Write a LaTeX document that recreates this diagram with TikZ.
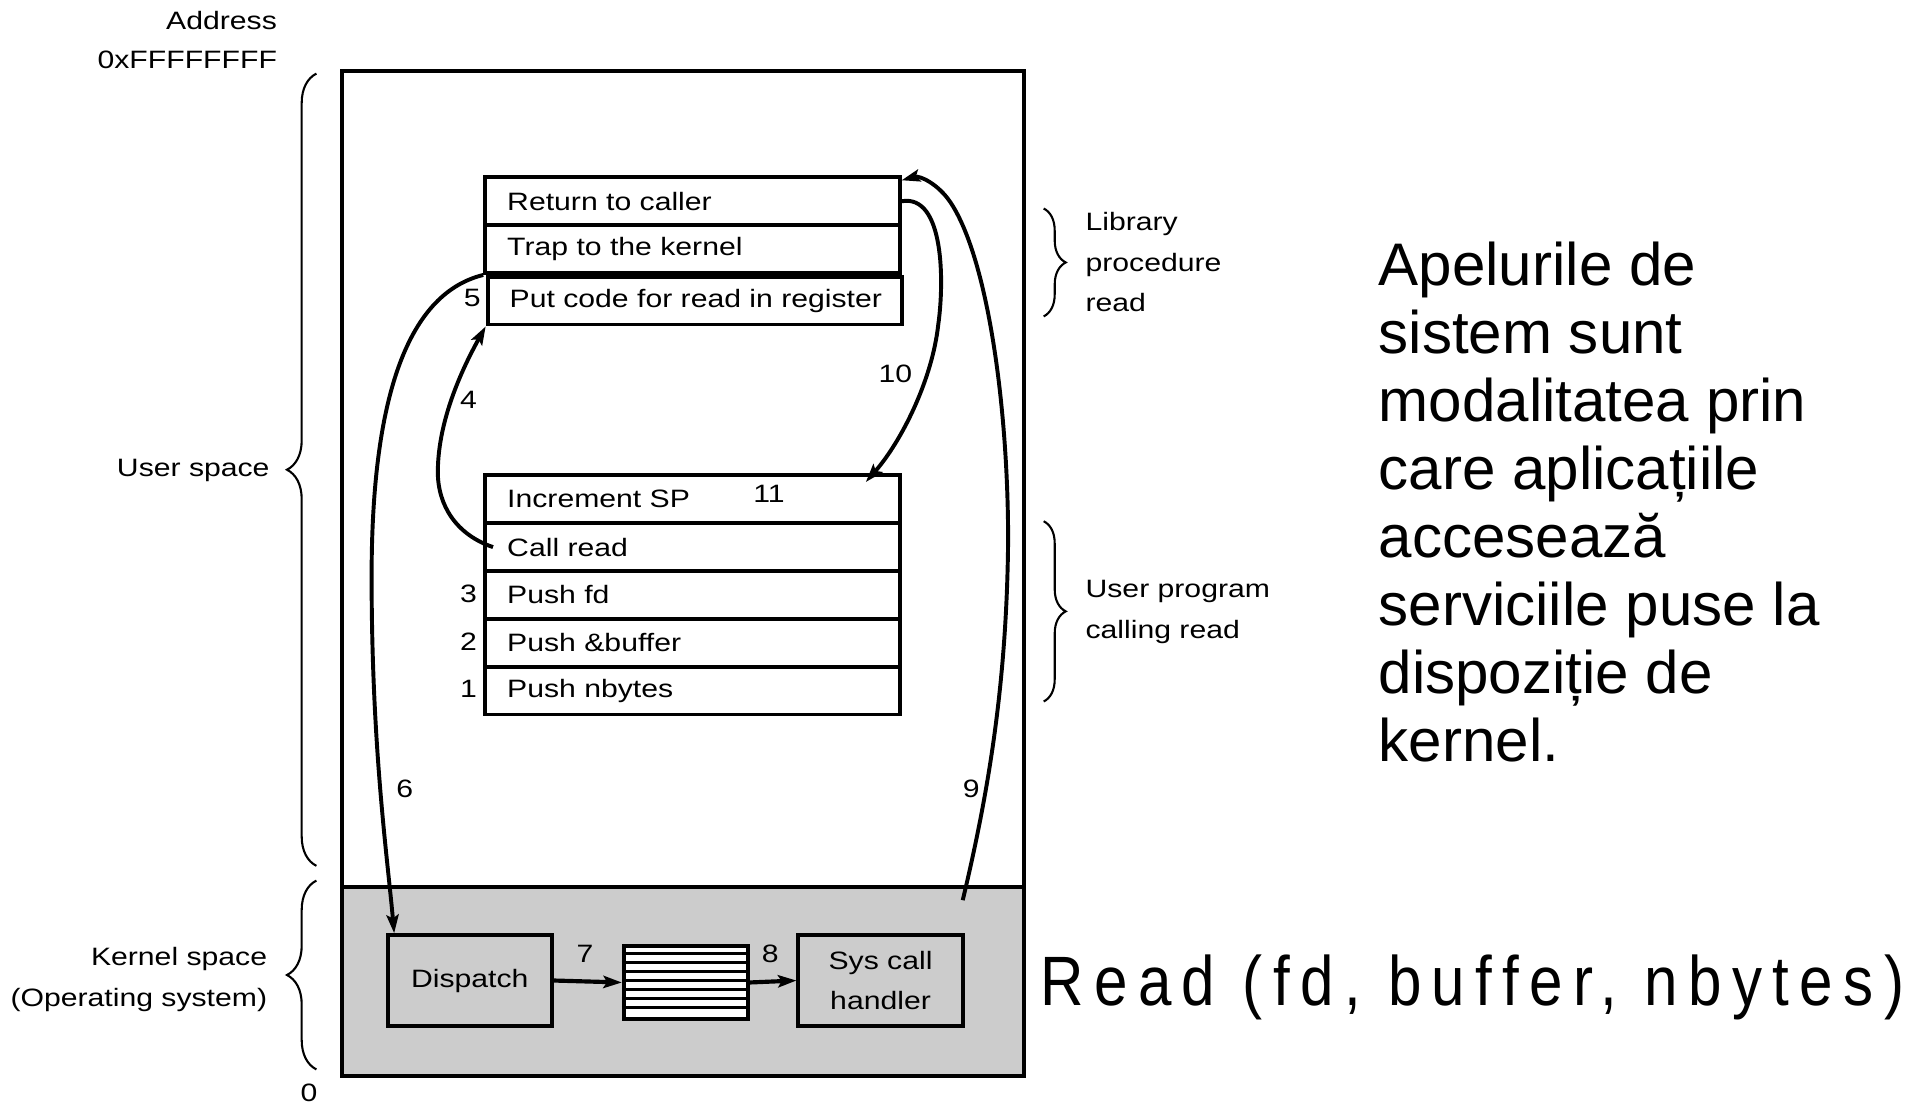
\documentclass[tikz,border=0pt]{standalone}
\usepackage{fontspec}
\setmainfont{Liberation Sans}
\newfontfamily\figfont[FakeStretch=1.2]{Liberation Sans}
\newfontfamily\readfont[FakeStretch=0.86,LetterSpace=15]{Liberation Sans}
\usetikzlibrary{arrows.meta,decorations.pathreplacing}
\begin{document}
\begin{tikzpicture}[x=1pt,y=-1pt]
\tikzset{
  fig/.style={font=\figfont\fontsize{20.5}{33}\selectfont},
  lbl/.style={fig, inner sep=0pt},
  row/.style={draw, line width=3.2pt, minimum width=338pt, minimum height=39pt,
    text width=302pt, inner xsep=18pt, inner ysep=0pt, align=left, anchor=north west, fig},
  kbox/.style={draw, line width=3.2pt, fill=black!20, align=center, fig, inner sep=0pt,
    minimum width=134pt, minimum height=74pt},
  conn/.style={line width=3.2pt, -{Stealth[length=15pt,width=10pt,inset=3pt]}},
  bigbrace/.style={decorate, decoration={brace, amplitude=24pt}, line width=1.7pt},
  smallbrace/.style={decorate, decoration={brace, amplitude=18pt}, line width=1.7pt}
}
\useasboundingbox (0,0) rectangle (1568,902);
% memory box
\node[fill=black!20, draw, line width=3.2pt, anchor=north west, inner sep=0pt,
  minimum width=556pt, minimum height=154pt] (kern) at (277,722) {};
\node[draw, line width=3.2pt, anchor=north west, inner sep=0pt,
  minimum width=556pt, minimum height=820pt] (mem) at (277,56) {};
% library procedure rows
\node[row] (ret) at (394,143) {Return to caller};
\node[row] (trap) at (394,182) {Trap to the kernel};
\node[row] (put) at (396,224) {\mbox{Put code for read in register}};
% user program rows
\node[row] (inc) at (394,386) {Increment SP};
\node[row] (call) at (394,425) {Call read};
\node[row] (pfd) at (394,464) {Push fd};
\node[row] (pbuf) at (394,503) {Push \&buffer};
\node[row] (pnb) at (394,542) {Push nbytes};
% kernel boxes
\node[kbox] (disp) at (383,799.5) {Dispatch};
\node[kbox] (sys) at (718,799.5) {Sys call\\handler};
\node[draw, line width=3.2pt, fill=white, anchor=north west, inner sep=0pt,
  minimum width=101pt, minimum height=59pt] (stack) at (507,770) {};
\foreach \k in {1,...,7} {
  \draw[line width=2.8pt] (507,770+\k*7.375) -- (608,770+\k*7.375);
}
\draw[conn, line width=3.4pt] (disp.east) -- (stack.west);
\draw[conn, line width=3.4pt] (stack.east) -- (sys.west);
% curved connectors
\coordinate (s9) at (785,734);
\coordinate (c10) at (706,393);
\draw[conn] ([xshift=8pt]call.west) .. controls (372,436) and (357,412) .. (357,385)
  .. controls (357,340) and (380,295) .. (put.south west);
\draw[conn] (trap.south west) .. controls (330,240) and (303,330) .. (303,470)
  .. controls (303,610) and (316,700) .. ([xshift=7pt]disp.north west);
\draw[conn] (s9) .. controls (805,650) and (821,560) .. (822,440)
  .. controls (822,330) and (805,210) .. (775,165)
  .. controls (765,150) and (750,143) .. ([yshift=-4pt]ret.north east);
\draw[conn] (ret.east) .. controls (770,158) and (770,230) .. (765,265)
  .. controls (760,310) and (735,360) .. (c10);
% step numbers
\node[lbl] (n5) at (385,243) {5};
\node[lbl] (n4) at (382,326) {4};
\node[lbl] (n10) at (730,305) {10};
\node[lbl] (n11) at (627,403) {11};
\node[lbl] (n3) at (382,484) {3};
\node[lbl] (n2) at (382,523) {2};
\node[lbl] (n1) at (382,562) {1};
\node[lbl] (n6) at (330,643) {6};
\node[lbl] (n9) at (792,643) {9};
\node[lbl] (n7) at (477,778) {7};
\node[lbl] (n8) at (628,778) {8};
% left labels and braces
\node[lbl, anchor=east] (addr) at (226,17) {Address};
\node[lbl, anchor=east] (ffff) at (226,49) {0xFFFFFFFF};
\node[lbl, anchor=east] (uspace) at (220,384) {User space};
\node[lbl, anchor=east, align=right] (kspace) at (218,798.5) {Kernel space\\(Operating system)};
\node[lbl] (zero) at (252,891) {0};
\draw[bigbrace] (258,706) -- (258,60);
\draw[bigbrace] (258,872) -- (258,718);
% right braces and labels
\draw[smallbrace] (851,170) -- (851,258);
\draw[smallbrace] (851,425) -- (851,572);
\node[lbl, anchor=west, align=left] (lib) at (885,214) {Library\\procedure\\read};
\node[lbl, anchor=west, align=left] (uprog) at (885,499) {User program\\calling read};
% slide text
\node[anchor=north west, align=left, inner sep=0pt, font=\fontsize{49}{55.4}\selectfont] (desc) at (1124,197.3)
  {Apelurile de\\sistem sunt\\modalitatea prin\\care aplicațiile\\accesează\\serviciile puse la\\dispoziție de\\kernel.};
\node[anchor=base west, inner sep=0pt, font=\readfont\fontsize{57}{60}\selectfont] (readcall) at (848,820)
  {Read (fd, buffer, nbytes)};
\end{tikzpicture}
\end{document}
